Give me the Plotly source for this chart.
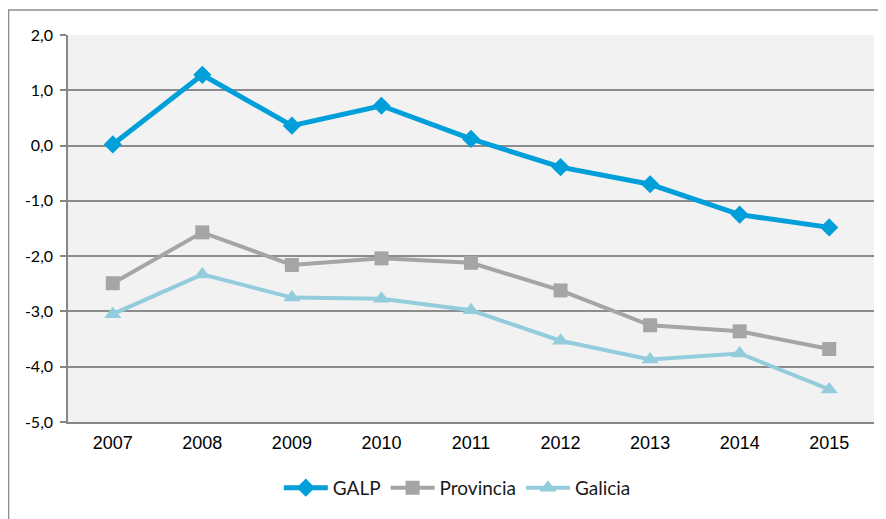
import plotly.graph_objects as go

years = ["2007", "2008", "2009", "2010", "2011", "2012", "2013", "2014", "2015"]
galp = [0.02, 1.28, 0.36, 0.72, 0.12, -0.39, -0.70, -1.25, -1.48]
provincia = [-2.49, -1.57, -2.16, -2.04, -2.12, -2.62, -3.25, -3.36, -3.68]
galicia = [-3.05, -2.33, -2.75, -2.77, -2.98, -3.53, -3.87, -3.76, -4.41]

y_ticks = [2, 1, 0, -1, -2, -3, -4, -5]
y_ticktext = ["2,0", "1,0", "0,0", "-1,0", "-2,0", "-3,0", "-4,0", "-5,0"]

fig = go.Figure()
fig.add_trace(go.Scatter(
    x=years, y=galp, name="GALP", mode="lines+markers",
    line=dict(color="#009fd9", width=5),
    marker=dict(symbol="diamond", size=14, color="#009fd9"),
))
fig.add_trace(go.Scatter(
    x=years, y=provincia, name="Provincia", mode="lines+markers",
    line=dict(color="#a5a5a5", width=4),
    marker=dict(symbol="square", size=14, color="#a5a5a5"),
))
fig.add_trace(go.Scatter(
    x=years, y=galicia, name="Galicia", mode="lines+markers",
    line=dict(color="#93cddd", width=4),
    marker=dict(symbol="triangle-up", size=15, color="#93cddd"),
))

# page body has an 8px margin, so the figure is sized/offset to compensate
fig.update_layout(
    width=878, height=511,
    margin=dict(l=60, r=12, t=27, b=88),
    paper_bgcolor="white",
    plot_bgcolor="#f2f2f2",
    showlegend=True,
    legend=dict(
        orientation="h", x=0.483, xanchor="center", y=-0.17, yanchor="middle",
        font=dict(family="Lato, Open Sans, sans-serif", size=19, color="#1a1a1a"),
        itemwidth=44, tracegroupgap=0,
        bgcolor="rgba(0,0,0,0)",
    ),
    xaxis=dict(
        type="category", range=[-0.5, 8.5],
        showgrid=False, showline=True, linecolor="#868686", linewidth=1.5,
        ticks="outside", ticklen=4, tickcolor="rgba(0,0,0,0)",
        tickfont=dict(family="Liberation Sans, Arial, sans-serif", size=18, color="#000000"),
        zeroline=False, fixedrange=True,
    ),
    yaxis=dict(
        range=[-5, 2], tickvals=y_ticks, ticktext=y_ticktext,
        showgrid=True, gridcolor="#8c8c8c", gridwidth=1.5,
        showline=True, linecolor="#868686", linewidth=1.5,
        ticks="outside", ticklen=6, tickcolor="#868686", tickwidth=1.5,
        ticklabelstandoff=4,
        tickfont=dict(family="Lato, Open Sans, sans-serif", size=16, color="#000000"),
        zeroline=False, fixedrange=True,
    ),
    shapes=[
        dict(type="rect", xref="paper", yref="paper",
             x0=(0.5 - 60) / 806, x1=1.2, y0=-0.5, y1=1 + (27 - 2) / 388,
             line=dict(color="#8c8c8c", width=1.5), fillcolor="rgba(0,0,0,0)", layer="below"),
    ],
)

fig.write_html("out.html")
